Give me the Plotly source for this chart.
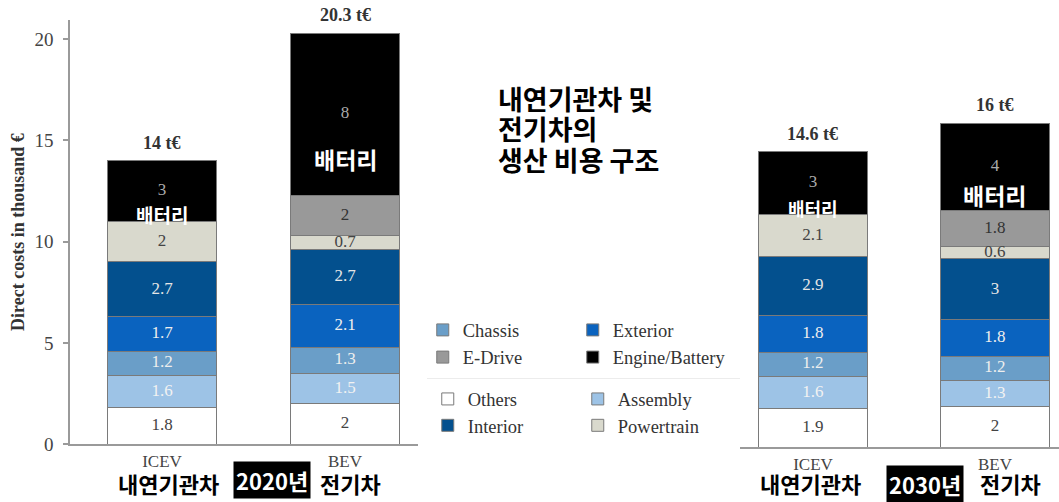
import plotly.graph_objects as go
import numpy as np

W, H = 1059, 502

categories = ["ICEV", "BEV"]
components = ["Others", "Assembly", "Chassis", "Exterior", "Interior",
              "Powertrain", "E-Drive", "Engine/Battery"]

# values in thousand €, bottom to top
icev_2020 = [1.8, 1.6, 1.2, 1.7, 2.7, 2.0, 0.0, 3.0]
bev_2020 = [2.0, 1.5, 1.3, 2.1, 2.7, 0.7, 2.0, 8.0]
icev_2030 = [1.9, 1.6, 1.2, 1.8, 2.9, 2.1, 0.0, 3.1]
bev_2030 = [2.0, 1.3, 1.2, 1.8, 3.0, 0.6, 1.8, 4.3]

# printed segment labels
icev_2020_lbl = ["1.8", "1.6", "1.2", "1.7", "2.7", "2", "", "3"]
bev_2020_lbl = ["2", "1.5", "1.3", "2.1", "2.7", "0.7", "2", "8"]
icev_2030_lbl = ["1.9", "1.6", "1.2", "1.8", "2.9", "2.1", "", "3"]
bev_2030_lbl = ["2", "1.3", "1.2", "1.8", "3", "0.6", "1.8", "4"]

totals_2020 = ["14 t€", "20.3 t€"]
totals_2030 = ["14.6 t€", "16 t€"]

colors = ["#ffffff", "#9dc3e6", "#6a9ec8", "#0a63bf", "#03508e",
          "#d9d9cd", "#999999", "#000000"]
text_colors = ["#444444", "#f2f2f2", "#eeeeee", "#eeeeee", "#e6e6e6",
               "#444444", "#333333", "#aaaaaa"]

legend_ids = {"Chassis": "legend", "Exterior": "legend2", "E-Drive": "legend3",
              "Engine/Battery": "legend4", "Others": "legend5", "Assembly": "legend6",
              "Interior": "legend7", "Powertrain": "legend8"}
# legend item positions in pixels: (icon centre x, text start x, centre y)
legend_pos = {"Chassis": (447.5, 458, 331.7), "Exterior": (597.5, 608, 331.7),
              "E-Drive": (447.5, 458, 359), "Engine/Battery": (597.5, 608, 359),
              "Others": (452.5, 463, 401), "Assembly": (602.5, 613, 401),
              "Interior": (452.5, 463, 427.5), "Powertrain": (602.5, 613, 427.5)}

SERIF = "Liberation Serif"
KR = "Noto Sans CJK KR"

# the photographed page comes out slightly compressed vertically; compensate
S = 0.982


def px(x):
    return x / W


def py(y):
    return 1 - (y / S) / H


fig = go.Figure()

panels = [
    ("x", "y", icev_2020, bev_2020, icev_2020_lbl, bev_2020_lbl, totals_2020),
    ("x2", "y2", icev_2030, bev_2030, icev_2030_lbl, bev_2030_lbl, totals_2030),
]

for p, (xa, ya, icev, bev, il, bl, tots) in enumerate(panels):
    for i, comp in enumerate(components):
        fig.add_trace(go.Bar(
            x=categories, y=[icev[i], bev[i]], xaxis=xa, yaxis=ya,
            name=comp, legendgroup=comp, showlegend=(p == 0),
            legend=legend_ids[comp],
            marker=dict(color=colors[i], line=dict(color="#7a7a7a", width=1)),
            width=0.6, hoverinfo="skip",
        ))
    # segment labels at mid-points of each stacked segment
    cum_i = np.cumsum(icev)
    cum_b = np.cumsum(bev)
    for i, comp in enumerate(components):
        xs, ys, ts = [], [], []
        for cat, vals, cum, lbls in (("ICEV", icev, cum_i, il), ("BEV", bev, cum_b, bl)):
            if vals[i] > 0:
                xs.append(cat)
                ys.append(cum[i] - vals[i] / 2)
                ts.append(lbls[i])
        fig.add_trace(go.Scatter(
            x=xs, y=ys, text=ts, mode="text", xaxis=xa, yaxis=ya,
            textfont=dict(family=SERIF, size=17, color=text_colors[i]),
            showlegend=False, hoverinfo="skip",
        ))
    # totals
    for cat, tot, lab in (("ICEV", cum_i[-1], tots[0]), ("BEV", cum_b[-1], tots[1])):
        fig.add_annotation(
            x=cat, y=tot, xref=xa, yref=ya, text="<b>%s</b>" % lab,
            showarrow=False, yanchor="bottom", yshift=6,
            font=dict(family=SERIF, size=18, color="#333333"),
        )

# battery annotations
battery_notes = [("x", "y", "ICEV", 11.33, 19), ("x", "y", "BEV", 14.1, 23),
                 ("x2", "y2", "ICEV", 11.8, 18), ("x2", "y2", "BEV", 12.45, 23)]
for xa, ya, cat, yv, sz in battery_notes:
    fig.add_annotation(x=cat, y=yv, xref=xa, yref=ya, text="<b>배터리</b>",
                       showarrow=False,
                       font=dict(family=KR, size=sz, color="white"))

# bottom Korean labels
for (xc, yc, txt) in [(168, 485, "내연기관차"), (350, 485, "전기차"),
                      (810, 485, "내연기관차"), (1010, 485, "전기차")]:
    fig.add_annotation(x=px(xc), y=py(yc), xref="paper", yref="paper",
                       text="<b>%s</b>" % txt, showarrow=False,
                       xanchor="center", yanchor="middle",
                       font=dict(family=KR, size=22, color="black"))
for (xc, yc, txt) in [(271.5, 482, "2020년"), (924.5, 486, "2030년")]:
    fig.add_annotation(x=px(xc), y=py(yc), xref="paper", yref="paper",
                       text="<b>%s</b>" % txt, showarrow=False,
                       xanchor="center", yanchor="middle", bgcolor="black",
                       borderpad=2,
                       font=dict(family=KR, size=22, color="white"))

# title, one annotation per line
for yc, line in [(99, "내연기관차 및"), (129.5, "전기차의"), (160, "생산 비용 구조")]:
    fig.add_annotation(x=px(496), y=py(yc), xref="paper", yref="paper",
                       text="<b>%s</b>" % line,
                       showarrow=False, xanchor="left", yanchor="middle", align="left",
                       font=dict(family=KR, size=27, color="black"))

# faint separator in legend area
fig.add_shape(type="line", xref="paper", yref="paper",
              x0=px(427), x1=px(740), y0=py(380), y1=py(380),
              line=dict(color="#ececec", width=1))

axis_common = dict(showgrid=False, zeroline=False)
layout_legends = {}
for comp, lid in legend_ids.items():
    ic, tx, yc = legend_pos[comp]
    left = (ic + tx) / 2 - 30
    layout_legends[lid] = dict(
        x=px(left), y=py(yc), xanchor="left", yanchor="middle",
        bgcolor="rgba(0,0,0,0)", borderwidth=0,
        font=dict(family=SERIF, size=18.5, color="#333333"),
    )

fig.update_layout(
    width=W, height=H, margin=dict(l=0, r=0, t=0, b=0),
    paper_bgcolor="white", plot_bgcolor="white",
    barmode="stack", bargap=0.4,
    xaxis=dict(domain=[px(70), px(418)], range=[-0.503, 1.399], anchor="y",
               showline=True, linecolor="#9a9a9a", linewidth=1.5, ticks="",
               ticklabelstandoff=1,
               tickfont=dict(family=SERIF, size=17, color="#444444"), **axis_common),
    yaxis=dict(domain=[py(446), py(20)], range=[0, 20.95], anchor="x",
               showline=True, linecolor="#9a9a9a", linewidth=1.5,
               ticks="outside", ticklen=5, tickcolor="#9a9a9a", tickwidth=1.5,
               tickvals=[0, 5, 10, 15, 20], ticklabelstandoff=6,
               tickfont=dict(family=SERIF, size=19, color="#444444"),
               title=dict(text="<b>Direct costs in thousand €</b>", standoff=5,
                          font=dict(family=SERIF, size=18, color="#333333")),
               **axis_common),
    xaxis2=dict(domain=[px(740), 1.0], range=[-0.401, 1.352], anchor="y2",
                showline=True, linecolor="#9a9a9a", linewidth=1.5, ticks="",
                ticklabelstandoff=1,
                tickfont=dict(family=SERIF, size=17, color="#444444"), **axis_common),
    yaxis2=dict(domain=[py(449), py(103.4)], range=[0, 17], anchor="x2",
                visible=False, **axis_common),
    **layout_legends,
)

fig.write_html("out.html")
